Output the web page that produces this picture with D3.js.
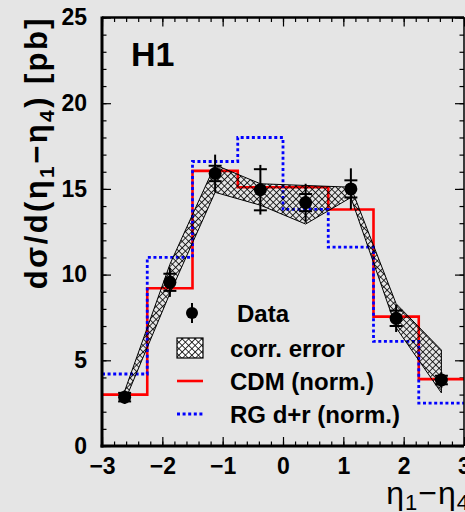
<!DOCTYPE html>
<html>
<head>
<meta charset="utf-8">
<script src="https://cdn.jsdelivr.net/npm/d3@7"></script>
<style>
  html, body { margin: 0; padding: 0; background: #e5e5e5; }
  svg { display: block; }
  text { font-family: "Liberation Sans", Arial, sans-serif; }
</style>
</head>
<body>
<svg id="chart" width="465" height="512"></svg>
<script>
// Bins in eta1 - eta4
const binEdges = [-3, -2.25, -1.5, -0.75, 0, 0.75, 1.5, 2.25, 3];
const binCenters = [-2.625, -1.875, -1.125, -0.375, 0.375, 1.125, 1.875, 2.625];

// Measured cross section [pb] with statistical and total uncertainties
const dataValues = [2.85, 9.55, 15.9, 14.95, 14.2, 15.0, 7.45, 3.85];
const statErrors = [0.25, 0.5, 0.45, 1.2, 0.5, 0.5, 0.45, 0.25];
const totalErrors = [0.4, 0.85, 1.1, 1.45, 1.1, 1.2, 0.8, 0.45];

// Correlated systematic error band
const corrUpper = [3.2, 10.6, 16.4, 15.3, 15.2, 15.1, 8.3, 5.6];
const corrLower = [2.6, 8.9, 14.8, 14.05, 12.95, 14.5, 6.9, 3.1];

// Model predictions (normalised)
const cdmValues = [3.0, 9.2, 16.05, 15.1, 15.1, 13.8, 7.55, 3.9];
const rgValues = [4.2, 11.0, 16.6, 18.0, 13.8, 11.6, 6.1, 2.5];

// Axis ticks
const xMajorTicks = [-3, -2, -1, 0, 1, 2, 3];
const yMajorTicks = [0, 5, 10, 15, 20, 25];

// Legend entries
const legendLabels = ["Data", "corr. error", "CDM (norm.)", "RG d+r (norm.)"];

const svg = d3.select("#chart");
const W = 465, H = 512;
const plotL = 102, plotR = 464, plotT = 17.5, plotB = 446;

svg.append("rect").attr("width", W).attr("height", H).attr("fill", "#e5e5e5");

const x = d3.scaleLinear().domain([-3, 3]).range([plotL, plotR]);
const y = d3.scaleLinear().domain([0, 25]).range([plotB, plotT]);

// Cross-hatch pattern
const hs = 4.6;
const defs = svg.append("defs");
const hatch = defs.append("pattern")
  .attr("id", "xhatch")
  .attr("patternUnits", "userSpaceOnUse")
  .attr("width", hs).attr("height", hs)
  .attr("patternTransform", "rotate(45)");
hatch.append("path")
  .attr("d", `M0,0.4 H${hs} M0.4,0 V${hs}`)
  .attr("stroke", "#000").attr("stroke-width", 0.85).attr("fill", "none");

// Axes ticks (pointing inward, mirrored on top/right)
const fmt = d3.format("d");
const tickStyle = g => {
  g.select(".domain").remove();
  g.selectAll(".tick line").attr("stroke", "#000").attr("stroke-width", 1.2);
  g.selectAll(".tick text")
    .attr("fill", "#000")
    .style("font-family", "'Liberation Sans', Arial, sans-serif")
    .style("font-weight", "bold")
    .style("font-size", "23px");
};

const xMinor = d3.range(-3, 3.0001, 0.2).map(v => Math.round(v * 10) / 10);
const yMinor = d3.range(0, 26, 1);

// bottom
svg.append("g").attr("transform", `translate(0,${plotB})`)
  .call(d3.axisBottom(x).tickValues(xMinor).tickSize(-4.5).tickFormat(""))
  .call(tickStyle);
svg.append("g").attr("transform", `translate(0,${plotB})`)
  .call(d3.axisBottom(x).tickValues(xMajorTicks).tickSize(-9).tickPadding(12).tickFormat(fmt))
  .call(tickStyle);
// top
svg.append("g").attr("transform", `translate(0,${plotT})`)
  .call(d3.axisTop(x).tickValues(xMinor).tickSize(-4.5).tickFormat(""))
  .call(tickStyle);
svg.append("g").attr("transform", `translate(0,${plotT})`)
  .call(d3.axisTop(x).tickValues(xMajorTicks).tickSize(-9).tickFormat(""))
  .call(tickStyle);
// left
svg.append("g").attr("transform", `translate(${plotL},0)`)
  .call(d3.axisLeft(y).tickValues(yMinor).tickSize(-4.5).tickFormat(""))
  .call(tickStyle);
svg.append("g").attr("transform", `translate(${plotL},0)`)
  .call(d3.axisLeft(y).tickValues(yMajorTicks).tickSize(-9).tickPadding(15).tickFormat(fmt))
  .call(tickStyle);
// right
svg.append("g").attr("transform", `translate(${plotR},0)`)
  .call(d3.axisRight(y).tickValues(yMinor).tickSize(-4.5).tickFormat(""))
  .call(tickStyle);
svg.append("g").attr("transform", `translate(${plotR},0)`)
  .call(d3.axisRight(y).tickValues(yMajorTicks).tickSize(-9).tickFormat(""))
  .call(tickStyle);

// Histogram step lines
const stepPoints = vals => vals.map((v, i) => [binEdges[i], v]).concat([[binEdges[binEdges.length - 1], vals[vals.length - 1]]]);
const stepLine = d3.line().x(d => x(d[0])).y(d => y(d[1])).curve(d3.curveStepAfter);

svg.append("path")
  .attr("d", stepLine(stepPoints(cdmValues)))
  .attr("fill", "none").attr("stroke", "#ff0000").attr("stroke-width", 2.6);

svg.append("path")
  .attr("d", stepLine(stepPoints(rgValues)))
  .attr("fill", "none").attr("stroke", "#0000ff").attr("stroke-width", 2.8)
  .attr("stroke-dasharray", "3,2.6");

// Correlated error band
const bandPts = binCenters.map((c, i) => [c, corrUpper[i]])
  .concat(binCenters.map((c, i) => [c, corrLower[i]]).reverse());
svg.append("path")
  .attr("d", d3.line().x(d => x(d[0])).y(d => y(d[1]))(bandPts) + "Z")
  .attr("fill", "url(#xhatch)").attr("stroke", "#000").attr("stroke-width", 1);

// Data points with error bars
const pts = svg.append("g");
binCenters.forEach((c, i) => {
  const cx = x(c), v = dataValues[i];
  pts.append("line")
    .attr("x1", cx).attr("x2", cx)
    .attr("y1", y(v + totalErrors[i])).attr("y2", y(v - totalErrors[i]))
    .attr("stroke", "#000").attr("stroke-width", 2);
  [v + statErrors[i], v - statErrors[i]].forEach(e => {
    pts.append("line")
      .attr("x1", cx - 6.5).attr("x2", cx + 6.5)
      .attr("y1", y(e)).attr("y2", y(e))
      .attr("stroke", "#000").attr("stroke-width", 2);
  });
  pts.append("circle").attr("cx", cx).attr("cy", y(v)).attr("r", 6.5).attr("fill", "#000");
});

// Frame
svg.append("line").attr("x1", plotL).attr("x2", plotL).attr("y1", plotT - 1).attr("y2", plotB + 1.5)
  .attr("stroke", "#000").attr("stroke-width", 3);
svg.append("line").attr("x1", plotL - 1.5).attr("x2", plotR).attr("y1", plotB).attr("y2", plotB)
  .attr("stroke", "#000").attr("stroke-width", 3);
svg.append("line").attr("x1", plotL).attr("x2", plotR).attr("y1", plotT).attr("y2", plotT)
  .attr("stroke", "#000").attr("stroke-width", 2.5);
svg.append("line").attr("x1", plotR).attr("x2", plotR).attr("y1", plotT).attr("y2", plotB)
  .attr("stroke", "#000").attr("stroke-width", 1.5);

// H1 label
svg.append("text").attr("x", 131).attr("y", 66)
  .style("font-weight", "bold").style("font-size", "34px").text("H1");

// Legend
const lg = svg.append("g");
const rowY = [313, 348, 381, 414];
lg.append("line").attr("x1", 192).attr("x2", 192).attr("y1", rowY[0] - 10).attr("y2", rowY[0] + 10)
  .attr("stroke", "#000").attr("stroke-width", 2);
lg.append("circle").attr("cx", 192).attr("cy", rowY[0]).attr("r", 6).attr("fill", "#000");
lg.append("rect").attr("x", 177).attr("y", rowY[1] - 10).attr("width", 26).attr("height", 20)
  .attr("fill", "#fff").attr("stroke", "none");
lg.append("rect").attr("x", 177).attr("y", rowY[1] - 10).attr("width", 26).attr("height", 20)
  .attr("fill", "url(#xhatch)").attr("stroke", "#000").attr("stroke-width", 1.2);
lg.append("line").attr("x1", 177).attr("x2", 203).attr("y1", rowY[2]).attr("y2", rowY[2])
  .attr("stroke", "#ff0000").attr("stroke-width", 2.6);
lg.append("line").attr("x1", 177).attr("x2", 203).attr("y1", rowY[3]).attr("y2", rowY[3])
  .attr("stroke", "#0000ff").attr("stroke-width", 2.8).attr("stroke-dasharray", "3,2.6");
const textX = [237, 230, 230, 230];
legendLabels.forEach((t, i) => {
  lg.append("text").attr("x", textX[i]).attr("y", rowY[i] + 9)
    .style("font-weight", "bold").style("font-size", "24px").text(t);
});

// Y axis title
const yt = svg.append("text")
  .attr("transform", "translate(47,16) rotate(-90)")
  .attr("text-anchor", "end")
  .style("font-weight", "bold").style("font-size", "31px")
  .style("letter-spacing", "2.4px");
yt.append("tspan").text("dσ/d(η");
yt.append("tspan").attr("dy", 7).style("font-size", "21px").text("1");
yt.append("tspan").attr("dy", -7).text("−η");
yt.append("tspan").attr("dy", 7).style("font-size", "21px").text("4");
yt.append("tspan").attr("dy", -7).text(") [pb]");

// X axis title
const xt = svg.append("text")
  .attr("x", 470).attr("y", 504)
  .attr("text-anchor", "end")
  .style("font-size", "32px")
  .style("letter-spacing", "1px");
xt.append("tspan").text("η");
xt.append("tspan").attr("dy", 6).style("font-size", "22px").text("1");
xt.append("tspan").attr("dy", -6).text("−η");
xt.append("tspan").attr("dy", 6).style("font-size", "22px").text("4");
</script>
</body>
</html>
